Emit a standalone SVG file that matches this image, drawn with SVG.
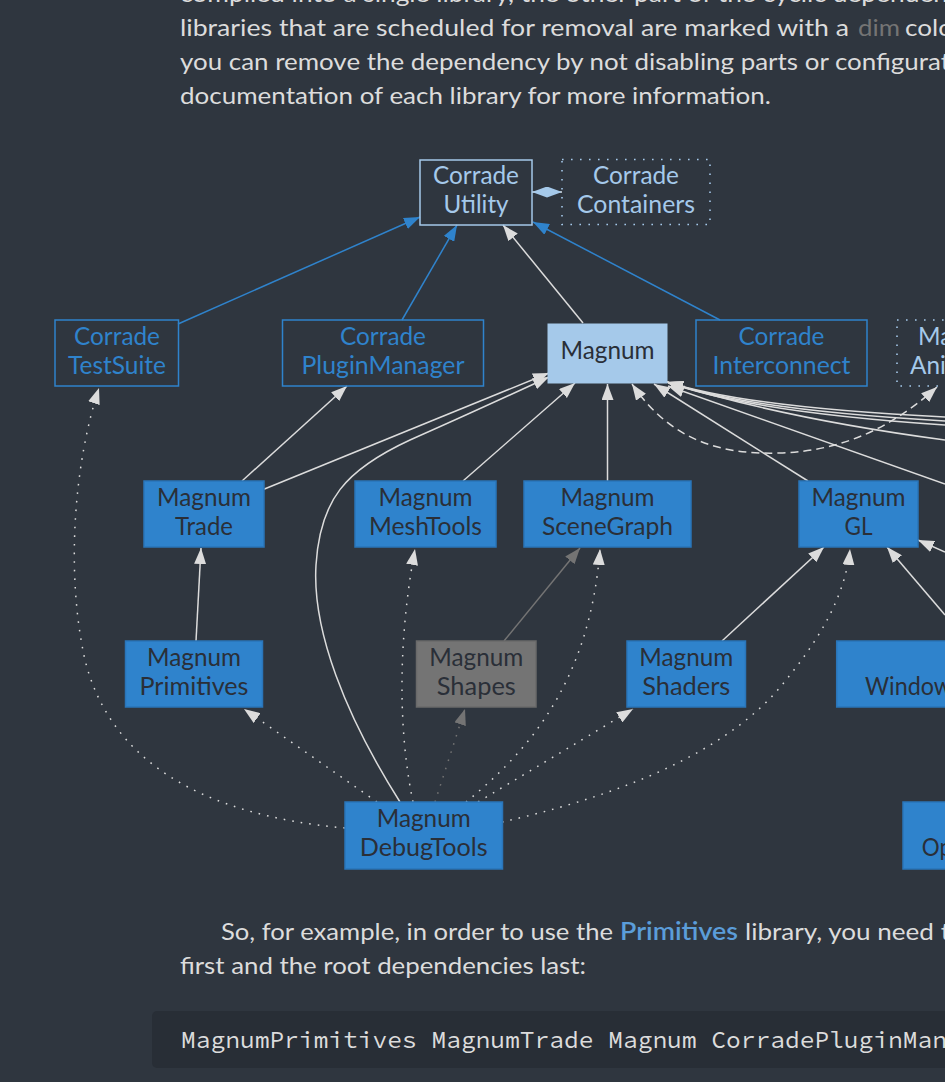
<svg xmlns="http://www.w3.org/2000/svg" width="945" height="1082" viewBox="0 0 945 1082">
<style>
text{font-family:'Source Sans Pro',Lato,'Liberation Sans',sans-serif}
text.mono{font-family:'Source Code Pro','DejaVu Sans Mono','Liberation Mono',monospace;font-size:24px;fill:#dcdcdc}
.p{font-size:24px;fill:#dcdcdc}
.n{font-size:24.5px;text-anchor:middle}
.ns{font-size:24.5px}
.dk{fill:#2a2f38}
.lb{fill:#a5c9ea}
.bl{fill:#2f83cc}
.e{fill:none;stroke:#dcdcdc;stroke-width:1.5}
.eb{stroke:#2f83cc}
.ed{stroke:#747474}
.dot{stroke-dasharray:1.6 7}
.dash{stroke-dasharray:8 5}
.box{fill:#2f83cc;stroke:#2a75b9;stroke-width:1.5}
.obox{fill:none;stroke:#2f83cc;stroke-width:1.5}
.lbox{fill:none;stroke:#a5c9ea;stroke-width:1.5}
.dbox{fill:none;stroke:#a5c9ea;stroke-width:1.6;stroke-dasharray:1.6 7.4}
</style>
<defs>
<marker id="ag" viewBox="0 0 16 12" refX="16" refY="6" markerWidth="16" markerHeight="12" markerUnits="userSpaceOnUse" orient="auto-start-reverse"><path d="M0,0L16,6L0,12z" fill="#dcdcdc"/></marker>
<marker id="ab" viewBox="0 0 16 12" refX="16" refY="6" markerWidth="16" markerHeight="12" markerUnits="userSpaceOnUse" orient="auto"><path d="M0,0L16,6L0,12z" fill="#2f83cc"/></marker>
<marker id="ad" viewBox="0 0 16 12" refX="16" refY="6" markerWidth="16" markerHeight="12" markerUnits="userSpaceOnUse" orient="auto"><path d="M0,0L16,6L0,12z" fill="#747474"/></marker>
<marker id="al" viewBox="0 0 15 11" refX="15" refY="5.5" markerWidth="15" markerHeight="11" markerUnits="userSpaceOnUse" orient="auto-start-reverse"><path d="M0,0L15,5.5L0,11z" fill="#a5c9ea"/></marker>
</defs>
<rect x="0" y="0" width="945" height="1082" fill="#2f363f"/>

<g id="text-top" class="p">
<text x="180" y="2" textLength="768" lengthAdjust="spacingAndGlyphs">compiled into a single library, the other part of the cyclic dependen</text>
<text x="180" y="36" textLength="669" lengthAdjust="spacingAndGlyphs">libraries that are scheduled for removal are marked with a</text>
<text x="858" y="36" textLength="42" lengthAdjust="spacingAndGlyphs" fill="#747474">dim</text>
<text x="905" y="36" textLength="48" lengthAdjust="spacingAndGlyphs">colo</text>
<text x="180" y="70" textLength="770" lengthAdjust="spacingAndGlyphs">you can remove the dependency by not disabling parts or configurat</text>
<text x="180" y="104" textLength="591" lengthAdjust="spacingAndGlyphs">documentation of each library for more information.</text>
</g>

<g id="connectors">
<path class="e eb" d="M178,324 L420,217" marker-end="url(#ab)"/>
<path class="e eb" d="M402,320 L457,225" marker-end="url(#ab)"/>
<path class="e eb" d="M720,320 L533,222" marker-end="url(#ab)"/>
<path class="e" stroke="#a5c9ea" d="M532,192 L562,192" marker-start="url(#al)" marker-end="url(#al)"/>
<path class="e" d="M583,323 L503,225" marker-end="url(#ag)"/>
<path class="e" d="M242,481 L347,386" marker-end="url(#ag)"/>
<path class="e" d="M262,490 L549,373" marker-end="url(#ag)"/>
<path class="e" d="M400,802 C345,715 312,630 316,565 C320,500 345,470 410,440 C460,418 510,395 549,377" marker-end="url(#ag)"/>
<path class="e" d="M463,481 L575,383" marker-end="url(#ag)"/>
<path class="e" d="M607.5,481 L607.5,384" marker-end="url(#ag)"/>
<path class="e" d="M808,481 L654,384" marker-end="url(#ag)"/>
<path class="e" d="M945,417 C840,412 730,402 667,382" marker-end="url(#ag)"/>
<path class="e" d="M945,421 C840,415 730,404 667,382" marker-end="url(#ag)"/>
<path class="e" d="M945,425 C840,418 730,405 667,382" marker-end="url(#ag)"/>
<path class="e" d="M945,440 C840,426 740,405 667,382" marker-end="url(#ag)"/>
<path class="e" d="M945,484 L668,386" marker-end="url(#ag)"/>
<path class="e dash" d="M632,384 C670,440 720,455 780,453 C845,451 895,425 937,387" marker-start="url(#ag)" marker-end="url(#ag)"/>
<path class="e" d="M196,641 L201,548" marker-end="url(#ag)"/>
<path class="e ed" d="M504,641 L580,548" marker-end="url(#ad)"/>
<path class="e" d="M722,641 L824,547" marker-end="url(#ag)"/>
<path class="e" d="M945,615 L887,547" marker-end="url(#ag)"/>
<path class="e" d="M945,552 L918,540" marker-end="url(#ag)"/>
<path class="e dot" d="M345,828 C200,815 110,760 85,660 C65,570 75,460 99,388" marker-end="url(#ag)"/>
<path class="e dot" d="M377,802 L244,709" marker-end="url(#ag)"/>
<path class="e dot" d="M413,802 C398,730 398,640 415,549" marker-end="url(#ag)"/>
<path class="e dot ed" d="M435,802 L465,709" marker-end="url(#ad)"/>
<path class="e dot" d="M466,802 C530,750 590,680 600,549" marker-end="url(#ag)"/>
<path class="e dot" d="M478,802 C540,765 590,735 633,709" marker-end="url(#ag)"/>
<path class="e dot" d="M502,822 C600,800 720,760 782,685 C815,645 845,600 850,549" marker-end="url(#ag)"/>
</g>

<g id="node-corrade-utility">
<rect class="lbox" x="420" y="160" width="112" height="65" fill="#2f363f"/>
<text class="n lb" x="476" y="184" textLength="86" lengthAdjust="spacingAndGlyphs">Corrade</text>
<text class="n lb" x="476" y="213" textLength="65" lengthAdjust="spacingAndGlyphs">Utility</text>
</g>
<g id="node-corrade-containers">
<rect class="dbox" x="562" y="159.5" width="148" height="65"/>
<text class="n lb" x="636" y="184" textLength="86" lengthAdjust="spacingAndGlyphs">Corrade</text>
<text class="n lb" x="636" y="213" textLength="118" lengthAdjust="spacingAndGlyphs">Containers</text>
</g>
<g id="node-corrade-testsuite">
<rect class="obox" x="55" y="320" width="123.5" height="66"/>
<text class="n bl" x="117" y="345" textLength="86" lengthAdjust="spacingAndGlyphs">Corrade</text>
<text class="n bl" x="117" y="374" textLength="98" lengthAdjust="spacingAndGlyphs">TestSuite</text>
</g>
<g id="node-corrade-pluginmanager">
<rect class="obox" x="282.5" y="320" width="201" height="66"/>
<text class="n bl" x="383" y="345" textLength="86" lengthAdjust="spacingAndGlyphs">Corrade</text>
<text class="n bl" x="383" y="374" textLength="163" lengthAdjust="spacingAndGlyphs">PluginManager</text>
</g>
<g id="node-magnum">
<rect x="547.5" y="323.5" width="120" height="60" fill="#a5c9ea"/>
<text class="n dk" x="607.5" y="358.5" textLength="94" lengthAdjust="spacingAndGlyphs">Magnum</text>
</g>
<g id="node-corrade-interconnect">
<rect class="obox" x="696" y="320" width="171" height="66"/>
<text class="n bl" x="781.5" y="345" textLength="86" lengthAdjust="spacingAndGlyphs">Corrade</text>
<text class="n bl" x="781.5" y="374" textLength="138" lengthAdjust="spacingAndGlyphs">Interconnect</text>
</g>
<g id="node-magnum-animation">
<rect class="dbox" x="897" y="320" width="136" height="66"/>
<text class="ns lb" x="918" y="345" textLength="94" lengthAdjust="spacingAndGlyphs">Magnum</text>
<text class="ns lb" x="910" y="374" textLength="110" lengthAdjust="spacingAndGlyphs">Animation</text>
</g>
<g id="node-magnum-trade">
<rect class="box" x="144" y="481" width="120" height="66"/>
<text class="n dk" x="204" y="505.5" textLength="94" lengthAdjust="spacingAndGlyphs">Magnum</text>
<text class="n dk" x="204" y="534.5" textLength="58" lengthAdjust="spacingAndGlyphs">Trade</text>
</g>
<g id="node-magnum-meshtools">
<rect class="box" x="355" y="481" width="141" height="66"/>
<text class="n dk" x="425.5" y="505.5" textLength="94" lengthAdjust="spacingAndGlyphs">Magnum</text>
<text class="n dk" x="425.5" y="534.5" textLength="113" lengthAdjust="spacingAndGlyphs">MeshTools</text>
</g>
<g id="node-magnum-scenegraph">
<rect class="box" x="524" y="481" width="167" height="66"/>
<text class="n dk" x="607.5" y="505.5" textLength="94" lengthAdjust="spacingAndGlyphs">Magnum</text>
<text class="n dk" x="607.5" y="534.5" textLength="131" lengthAdjust="spacingAndGlyphs">SceneGraph</text>
</g>
<g id="node-magnum-gl">
<rect class="box" x="799" y="481" width="119" height="66"/>
<text class="n dk" x="858.5" y="505.5" textLength="94" lengthAdjust="spacingAndGlyphs">Magnum</text>
<text class="n dk" x="858.5" y="534.5" textLength="28" lengthAdjust="spacingAndGlyphs">GL</text>
</g>
<g id="node-magnum-primitives">
<rect class="box" x="125.5" y="641" width="137" height="66"/>
<text class="n dk" x="194" y="665.7" textLength="94" lengthAdjust="spacingAndGlyphs">Magnum</text>
<text class="n dk" x="194" y="694.7" textLength="109" lengthAdjust="spacingAndGlyphs">Primitives</text>
</g>
<g id="node-magnum-shapes">
<rect x="416.5" y="641" width="119.5" height="66" fill="#747474" stroke="#6a6a6a" stroke-width="1.5"/>
<text class="n dk" x="476.3" y="665.7" textLength="94" lengthAdjust="spacingAndGlyphs">Magnum</text>
<text class="n dk" x="476.3" y="694.7" textLength="79" lengthAdjust="spacingAndGlyphs">Shapes</text>
</g>
<g id="node-magnum-shaders">
<rect class="box" x="627" y="641" width="118.5" height="66"/>
<text class="n dk" x="686.3" y="665.7" textLength="94" lengthAdjust="spacingAndGlyphs">Magnum</text>
<text class="n dk" x="686.3" y="694.7" textLength="88" lengthAdjust="spacingAndGlyphs">Shaders</text>
</g>
<g id="node-magnum-window">
<rect class="box" x="836.7" y="641" width="200" height="66"/>
<text class="ns dk" x="865" y="695" textLength="125" lengthAdjust="spacingAndGlyphs">Windowless</text>
</g>
<g id="node-magnum-debugtools">
<rect class="box" x="345" y="802" width="157.5" height="67"/>
<text class="n dk" x="423.7" y="826.7" textLength="94" lengthAdjust="spacingAndGlyphs">Magnum</text>
<text class="n dk" x="423.7" y="856" textLength="128" lengthAdjust="spacingAndGlyphs">DebugTools</text>
</g>
<g id="node-magnum-op">
<rect class="box" x="903" y="802" width="150" height="67"/>
<text class="ns dk" x="921.7" y="856" textLength="140" lengthAdjust="spacingAndGlyphs">OpenGLTester</text>
</g>

<g id="text-bottom" class="p">
<text x="221" y="940" textLength="392" lengthAdjust="spacingAndGlyphs">So, for example, in order to use the</text>
<text x="620" y="940" textLength="118" lengthAdjust="spacingAndGlyphs" fill="#5b9dd9" font-weight="600">Primitives</text>
<text x="745" y="940" textLength="205" lengthAdjust="spacingAndGlyphs">library, you need t</text>
<text x="180" y="974" textLength="406" lengthAdjust="spacingAndGlyphs">first and the root dependencies last:</text>
</g>
<g id="code">
<rect x="152" y="1011" width="820" height="57" rx="5" fill="#282e36"/>
<text class="mono" x="181" y="1048" textLength="766" lengthAdjust="spacingAndGlyphs">MagnumPrimitives MagnumTrade Magnum CorradePluginMan</text>
</g>
</svg>
